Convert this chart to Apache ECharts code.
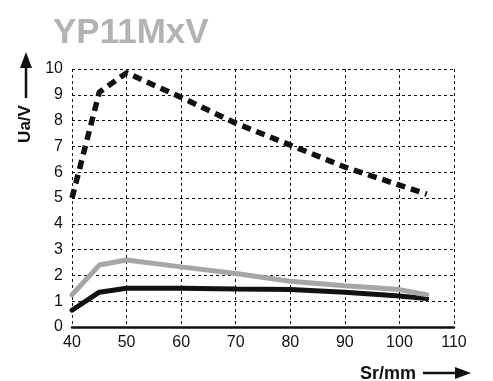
<!DOCTYPE html>
<html>
<head>
<meta charset="utf-8">
<script src="https://cdn.jsdelivr.net/npm/echarts@6/dist/echarts.min.js"></script>
<style>
  html, body { margin: 0; padding: 0; background: #fff; }
  #main { width: 493px; height: 381px; }
</style>
</head>
<body>
<div id="main"></div>
<script>
// Sr/mm values
var sr = [40, 45, 50, 60, 70, 80, 90, 100, 105];
// Ua/V for the three curves
var dashedCurve = [5.0, 9.1, 9.85, 8.9, 7.9, 7.05, 6.2, 5.5, 5.15];
var greyCurve = [1.25, 2.4, 2.6, 2.33, 2.07, 1.77, 1.6, 1.45, 1.25];
var blackCurve = [0.65, 1.35, 1.5, 1.5, 1.47, 1.45, 1.35, 1.2, 1.1];

function pairs(ys) {
    return sr.map(function (x, i) { return [x, ys[i]]; });
}

var myChart = echarts.init(document.getElementById('main'));

var font = 'Liberation Sans, Arial, sans-serif';

var option = {
    backgroundColor: '#fff',
    animation: false,
    title: {
        text: 'YP11MxV',
        left: 48,
        top: 11,
        textStyle: {
            color: '#b3b3b3',
            fontSize: 35,
            fontWeight: 'bold',
            fontFamily: font
        }
    },
    grid: {
        left: 72,
        right: 39,
        top: 69,
        bottom: 54
    },
    xAxis: {
        type: 'value',
        min: 40,
        max: 110,
        interval: 10,
        axisLine: { show: true, lineStyle: { color: '#111', width: 2.5 } },
        axisTick: { show: false },
        axisLabel: { color: '#111', fontSize: 16, fontFamily: font, margin: 8 },
        splitLine: { lineStyle: { color: '#111', type: [3, 3], width: 1 } }
    },
    yAxis: {
        type: 'value',
        min: 0,
        max: 10,
        interval: 1,
        axisLine: { show: false },
        axisTick: { show: false },
        axisLabel: { color: '#111', fontSize: 16, fontFamily: font, margin: 9 },
        splitLine: { lineStyle: { color: '#111', type: [3, 3], width: 1 } }
    },
    series: [
        {
            type: 'line',
            data: pairs(dashedCurve),
            symbol: 'none',
            lineStyle: { color: '#111', width: 5.5, type: [9, 6] },
            z: 4
        },
        {
            type: 'line',
            data: pairs(blackCurve),
            symbol: 'none',
            lineStyle: { color: '#111', width: 5, cap: 'round' },
            z: 2
        },
        {
            type: 'line',
            data: pairs(greyCurve),
            symbol: 'none',
            lineStyle: { color: '#a6a6a6', width: 5, cap: 'round' },
            z: 3
        }
    ],
    graphic: [
        // y axis name with upward arrow
        {
            type: 'text',
            x: 25,
            y: 124,
            rotation: Math.PI / 2,
            style: {
                text: 'Ua/V',
                fill: '#111',
                font: 'bold 17px ' + font,
                align: 'center',
                verticalAlign: 'middle'
            }
        },
        { type: 'line', shape: { x1: 26, y1: 98, x2: 26, y2: 64 }, style: { stroke: '#111', lineWidth: 2.5 } },
        { type: 'polygon', shape: { points: [[26, 52], [20, 68], [32, 68]] }, style: { fill: '#111' } },
        // x axis name with right arrow
        {
            type: 'text',
            x: 360,
            y: 374,
            style: {
                text: 'Sr/mm',
                fill: '#111',
                font: 'bold 18px ' + font,
                align: 'left',
                verticalAlign: 'middle'
            }
        },
        { type: 'line', shape: { x1: 423, y1: 373, x2: 458, y2: 373 }, style: { stroke: '#111', lineWidth: 2.5 } },
        { type: 'polygon', shape: { points: [[471, 373], [455, 367], [455, 379]] }, style: { fill: '#111' } }
    ]
};

myChart.setOption(option);
</script>
</body>
</html>
